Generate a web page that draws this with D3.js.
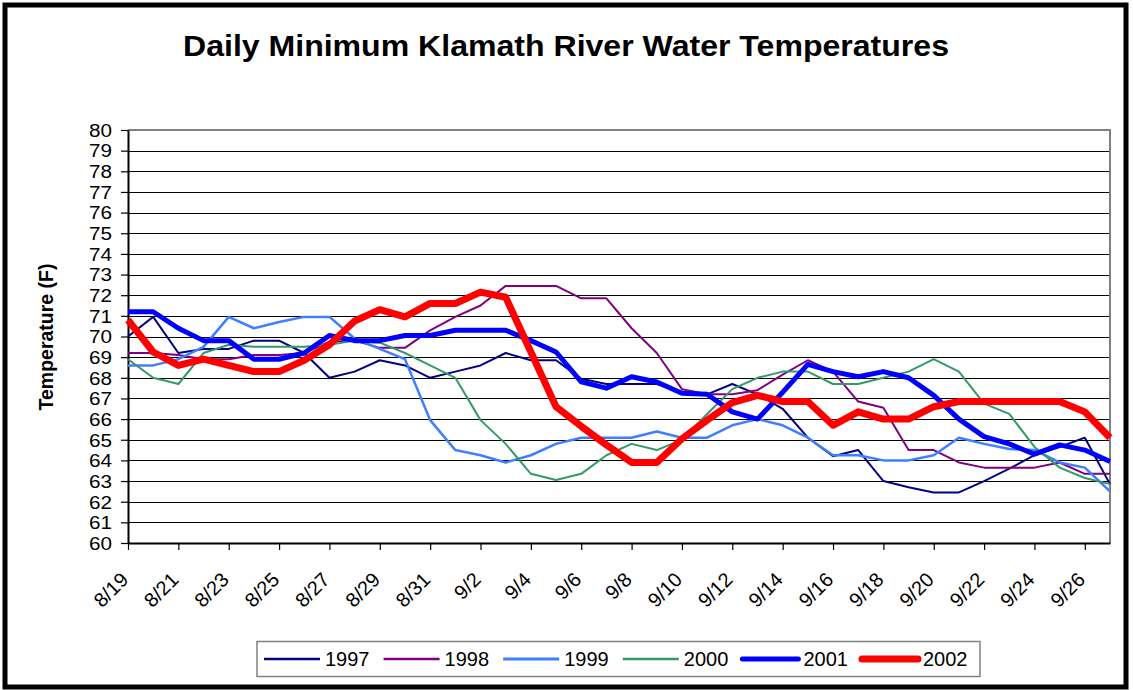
<!DOCTYPE html>
<html>
<head>
<meta charset="utf-8">
<script src="https://cdn.jsdelivr.net/npm/d3@7"></script>
<style>
  body { margin: 0; background: #fff; }
  svg text { font-family: "Liberation Sans", Arial, sans-serif; fill: #000; }
</style>
</head>
<body>
<div id="chart"></div>
<script>
// dates on the category axis
var dates = [
  "8/19", "8/20", "8/21", "8/22", "8/23", "8/24", "8/25", "8/26", "8/27", "8/28",
  "8/29", "8/30", "8/31", "9/1", "9/2", "9/3", "9/4", "9/5", "9/6", "9/7",
  "9/8", "9/9", "9/10", "9/11", "9/12", "9/13", "9/14", "9/15", "9/16", "9/17",
  "9/18", "9/19", "9/20", "9/21", "9/22", "9/23", "9/24", "9/25", "9/26", "9/27"
];

var yTicks = d3.range(60, 81);

var t1997 = [70.0, 70.95, 69.2, 69.4, 69.4, 69.8, 69.8, 69.2, 68.0, 68.3,
  68.85, 68.6, 68.0, 68.3, 68.6, 69.2, 68.85, 68.85, 67.95, 67.7,
  67.7, 67.7, 67.3, 67.2, 67.7, 67.2, 66.5, 65.1, 64.2, 64.5,
  63.0, 62.7, 62.45, 62.45, 63.0, 63.6, 64.25, 64.65, 65.1, 62.85];

var t1998 = [69.2, 69.2, 69.1, 68.9, 68.9, 69.1, 69.1, 69.2, 69.75, 69.8,
  69.45, 69.45, 70.3, 70.95, 71.5, 72.45, 72.45, 72.45, 71.85, 71.85,
  70.4, 69.2, 67.45, 67.2, 67.2, 67.4, 68.15, 68.85, 68.3, 66.85,
  66.55, 64.5, 64.5, 63.9, 63.65, 63.65, 63.65, 63.9, 63.35, 63.35];

var t1999 = [68.6, 68.6, 68.9, 69.5, 70.95, 70.4, 70.7, 70.95, 70.95, 69.9,
  69.4, 68.9, 65.95, 64.5, 64.25, 63.9, 64.25, 64.8, 65.1, 65.1,
  65.1, 65.4, 65.1, 65.1, 65.7, 66.0, 65.7, 65.1, 64.25, 64.25,
  64.0, 64.0, 64.25, 65.1, 64.8, 64.55, 64.5, 63.9, 63.65, 62.5];

var t2000 = [68.9, 68.0, 67.7, 69.2, 69.6, 69.5, 69.5, 69.5, 69.6, 69.8,
  69.7, 69.2, 68.6, 68.0, 65.95, 64.8, 63.35, 63.05, 63.35, 64.25,
  64.8, 64.5, 65.0, 66.25, 67.45, 68.0, 68.3, 68.3, 67.7, 67.7,
  68.0, 68.3, 68.9, 68.3, 66.75, 66.25, 64.65, 63.65, 63.15, 62.85];

var t2001 = [71.2, 71.2, 70.4, 69.8, 69.8, 68.9, 68.9, 69.2, 70.05, 69.8,
  69.8, 70.05, 70.05, 70.3, 70.3, 70.3, 69.8, 69.25, 67.8, 67.5,
  68.05, 67.8, 67.25, 67.2, 66.35, 66.0, 67.3, 68.65, 68.3, 68.05,
  68.3, 68.0, 67.15, 66.0, 65.15, 64.8, 64.3, 64.75, 64.5, 63.95];

var t2002 = [70.8, 69.25, 68.6, 68.9, 68.6, 68.3, 68.3, 68.85, 69.6, 70.75,
  71.3, 70.95, 71.6, 71.6, 72.15, 71.9, 69.25, 66.6, 65.65, 64.75,
  63.9, 63.9, 65.05, 65.95, 66.8, 67.15, 66.85, 66.85, 65.7, 66.35,
  66.0, 66.0, 66.6, 66.85, 66.85, 66.85, 66.85, 66.85, 66.35, 65.1];

var seriesNames = ["1997", "1998", "1999", "2000", "2001", "2002"];
var seriesValues = [t1997, t1998, t1999, t2000, t2001, t2002];

var colors = ["#000080", "#800080", "#3f7fff", "#339966", "#0000ff", "#ff0000"];
var widths = [2, 2, 2.5, 2, 5, 7];
var legendWidths = [2.5, 2.5, 3, 2.5, 5, 7];

var width = 1133, height = 690;
var plot = { left: 128, right: 1110, top: 130, bottom: 543 };

var svg = d3.select("#chart")
  .append("svg")
  .attr("width", width)
  .attr("height", height);

svg.append("rect")
  .attr("width", width)
  .attr("height", height)
  .attr("fill", "#fff");

var x = d3.scalePoint()
  .domain(dates)
  .range([plot.left, plot.right])
  .padding(0);

var y = d3.scaleLinear()
  .domain([60, 80])
  .range([plot.bottom, plot.top]);

// title
svg.append("text")
  .attr("x", 566)
  .attr("y", 56)
  .attr("text-anchor", "middle")
  .attr("textLength", 766)
  .attr("lengthAdjust", "spacingAndGlyphs")
  .style("font-size", "29px")
  .style("font-weight", "bold")
  .text("Daily Minimum Klamath River Water Temperatures");

// horizontal gridlines
svg.append("g")
  .selectAll("line")
  .data(yTicks.filter(function(d) { return d > 60 && d < 80; }))
  .enter()
  .append("line")
  .attr("x1", plot.left)
  .attr("x2", plot.right)
  .attr("y1", function(d) { return Math.round(y(d)) + 0.5; })
  .attr("y2", function(d) { return Math.round(y(d)) + 0.5; })
  .attr("stroke", "#000")
  .attr("stroke-width", 1);

// top and right edge of the plot area
svg.append("path")
  .attr("d", "M" + plot.left + "," + plot.top + "H" + plot.right + "V" + plot.bottom)
  .attr("fill", "none")
  .attr("stroke", "#808080")
  .attr("stroke-width", 2);

// y axis
var yAxis = svg.append("g")
  .attr("transform", "translate(" + plot.left + ",0)")
  .call(d3.axisLeft(y).tickValues(yTicks).tickFormat(d3.format("d"))
    .tickSize(7).tickSizeOuter(0).tickPadding(9));
yAxis.select(".domain").attr("stroke", "#000").attr("stroke-width", 2);
yAxis.selectAll(".tick line").attr("stroke", "#000").attr("stroke-width", 1.2);
yAxis.selectAll(".tick text")
  .attr("dy", "0.36em")
  .attr("textLength", 23)
  .attr("lengthAdjust", "spacingAndGlyphs")
  .style("font-size", "17.5px")
  .style("font-family", "'Liberation Sans', Arial, sans-serif");

// x axis, ticks every other day
var xAxis = svg.append("g")
  .attr("transform", "translate(0," + plot.bottom + ")")
  .call(d3.axisBottom(x)
    .tickValues(dates.filter(function(d, i) { return i % 2 === 0; }))
    .tickSize(7).tickSizeOuter(0));
xAxis.select(".domain").attr("stroke", "#000").attr("stroke-width", 2);
xAxis.selectAll(".tick line").attr("stroke", "#000").attr("stroke-width", 1.2);
xAxis.selectAll(".tick text")
  .attr("y", 0)
  .attr("dy", 0)
  .attr("text-anchor", "end")
  .attr("transform", "translate(1,38) rotate(-45)")
  .style("font-size", "20px")
  .style("font-family", "'Liberation Sans', Arial, sans-serif");

// y axis title
svg.append("text")
  .attr("transform", "translate(53,337) rotate(-90)")
  .attr("text-anchor", "middle")
  .style("font-size", "19.5px")
  .style("font-weight", "bold")
  .text("Temperature (F)");

// series lines
var line = d3.line()
  .x(function(d, i) { return x(dates[i]); })
  .y(function(d) { return y(d); });

svg.append("g")
  .selectAll("path")
  .data(seriesValues)
  .enter()
  .append("path")
  .attr("d", line)
  .attr("fill", "none")
  .attr("stroke", function(d, i) { return colors[i]; })
  .attr("stroke-width", function(d, i) { return widths[i]; })
  .attr("stroke-linejoin", "round");

// legend
svg.append("rect")
  .attr("x", 257)
  .attr("y", 641.5)
  .attr("width", 723)
  .attr("height", 35)
  .attr("fill", "#fff")
  .attr("stroke", "#808080")
  .attr("stroke-width", 1.5);

var legend = svg.selectAll(".legend")
  .data(seriesNames)
  .enter()
  .append("g")
  .attr("class", "legend")
  .attr("transform", function(d, i) {
    return "translate(" + (264 + i * 119.6) + ",659)";
  });

legend.append("line")
  .attr("x1", 0)
  .attr("x2", 56)
  .attr("stroke", function(d, i) { return colors[i]; })
  .attr("stroke-width", function(d, i) { return legendWidths[i]; })
  .attr("stroke-linecap", function(d, i) { return i >= 4 ? "round" : "butt"; });

legend.append("text")
  .attr("x", 61)
  .attr("y", 7)
  .style("font-size", "20px")
  .text(function(d) { return d; });

// outer frame
svg.append("rect")
  .attr("x", 5)
  .attr("y", 5)
  .attr("width", 1121)
  .attr("height", 682)
  .attr("fill", "none")
  .attr("stroke", "#000")
  .attr("stroke-width", 5);
</script>
</body>
</html>
